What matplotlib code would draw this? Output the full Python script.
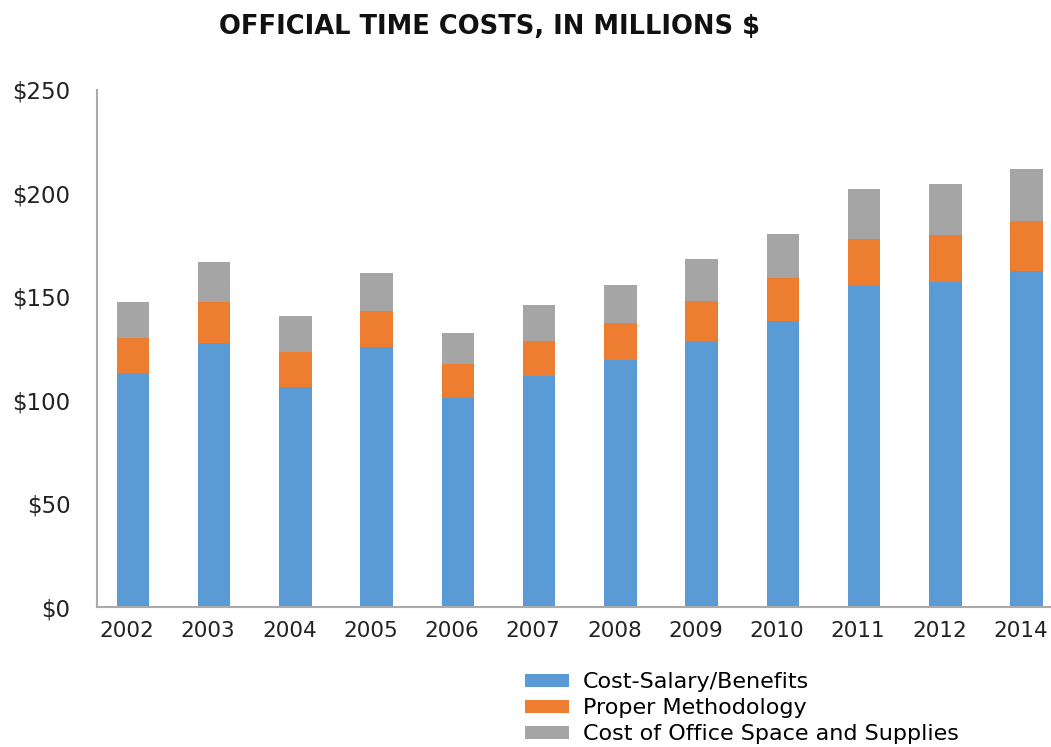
import matplotlib.pyplot as plt
import matplotlib.transforms as mtransforms
import numpy as np

# datos (millones $)
years = ['2002', '2003', '2004', '2005', '2006', '2007', '2008', '2009', '2010', '2011', '2012', '2014']
salary = [113.0, 127.6, 106.3, 125.5, 101.1, 111.9, 119.5, 128.7, 138.4, 155.0, 157.0, 162.3]
methodology = [17.2, 20.0, 16.9, 17.4, 16.3, 16.6, 17.8, 19.2, 20.5, 22.8, 23.1, 24.2]
office = [17.2, 19.2, 17.4, 18.6, 15.2, 17.5, 18.5, 20.2, 21.5, 24.2, 24.4, 25.2]
series_names = ['Cost-Salary/Benefits', 'Proper Methodology', 'Cost of Office Space and Supplies']

plt.rcParams['font.family'] = ['DejaVu Sans']

fig = plt.figure(figsize=(10.51, 7.47), dpi=100)
ax = fig.add_axes([97 / 1051, 1 - 607 / 747, 1 - 97 / 1051, (607 - 90) / 747])

x = np.arange(len(years))
w = 0.40
salary_a = np.array(salary)
meth_a = np.array(methodology)
b1 = ax.bar(x, salary_a, w, color='#5B9BD5', label=series_names[0])
b2 = ax.bar(x, meth_a, w, bottom=salary_a, color='#ED7D31', label=series_names[1])
b3 = ax.bar(x, office, w, bottom=salary_a + meth_a, color='#A5A5A5', label=series_names[2])

ax.set_xlim(-0.44, 11.3)
ax.set_ylim(0, 250)
ax.set_yticks(range(0, 251, 50))
ax.set_yticklabels(['$' + str(v) for v in range(0, 251, 50)], fontsize=16.5, color='#222222')
ax.set_xticks(x)
ax.set_xticklabels(years, fontsize=15.5, color='#222222')
ax.tick_params(length=0, pad=10)
ax.tick_params(axis='y', pad=19)

# las etiquetas del eje x estan un poco corridas a la izquierda
offset = mtransforms.ScaledTranslation(-6 / 100, 0, fig.dpi_scale_trans)
for lbl in ax.get_xticklabels():
    lbl.set_transform(lbl.get_transform() + offset)

for s in ['top', 'right']:
    ax.spines[s].set_visible(False)
for s in ['left', 'bottom']:
    ax.spines[s].set_color('#AAAAAA')
    ax.spines[s].set_linewidth(1.5)

fig.text(0.466, 0.964, 'OFFICIAL TIME COSTS, IN MILLIONS $', ha='center', va='center',
         fontsize=18.5, fontweight='bold', color='#111111')

fig.legend(handles=[b1, b2, b3], loc='upper left', bbox_to_anchor=(0.4995, 0.1),
           frameon=False, fontsize=16, handlelength=2.0, handleheight=0.5,
           labelspacing=0.27, handletextpad=0.6, borderpad=0, borderaxespad=0)

fig.savefig('out.png', dpi=100)
